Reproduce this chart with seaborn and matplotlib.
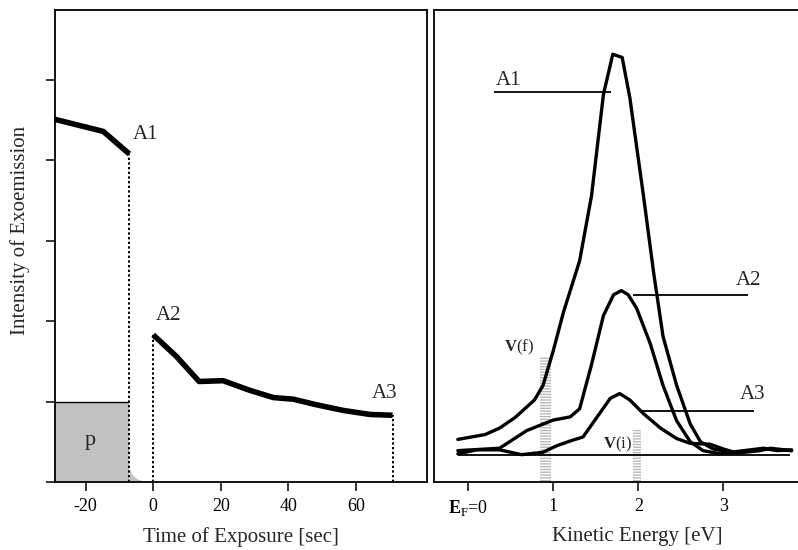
import matplotlib
matplotlib.use("Agg")
import matplotlib.pyplot as plt
import pandas as pd
import seaborn as sns

# ---------------------------------------------------------------------------
# Left panel: intensity of exoemission vs. time of exposure
# ---------------------------------------------------------------------------
pre_t = [-29.1, -14.8, -7.1]
pre_i = [4.51, 4.36, 4.08]
post_t = [0.0, 6.9, 13.6, 20.7, 28.6, 35.6, 41.5, 48.4, 56.3, 64.2, 70.9]
post_i = [1.83, 1.56, 1.25, 1.26, 1.14, 1.05, 1.03, 0.96, 0.89, 0.84, 0.83]
# grey "p" pulse and its decaying tail
p_start, p_end, p_level = -29.1, -7.1, 1.0
tail_t = [-7.1, -6.5, -5.5, -4.5, -3.0, -1.5, 0.0]
tail_i = [0.17, 0.11, 0.06, 0.035, 0.015, 0.005, 0.0]
time_ticks = [-20, 0, 20, 40, 60]
int_ticks = [0, 1, 2, 3, 4, 5]

# ---------------------------------------------------------------------------
# Right panel: kinetic energy spectra for A1, A2, A3
# ---------------------------------------------------------------------------
ke_a1 = [-0.12, 0.20, 0.37, 0.55, 0.78, 0.88, 1.00, 1.12, 1.31, 1.45, 1.59, 1.70, 1.81,
         1.90, 2.06, 2.18, 2.29, 2.45, 2.61, 2.73, 2.88, 3.08, 3.24, 3.47, 3.63, 3.80]
sp_a1 = [0.53, 0.59, 0.67, 0.80, 1.02, 1.20, 1.63, 2.11, 2.75, 3.56, 4.82, 5.32, 5.28,
         4.78, 3.56, 2.60, 1.81, 1.20, 0.72, 0.50, 0.41, 0.37, 0.39, 0.42, 0.39, 0.40]
ke_a2 = [-0.12, 0.37, 0.69, 1.00, 1.20, 1.31, 1.45, 1.59, 1.71, 1.80, 1.88, 1.98, 2.14,
         2.29, 2.45, 2.61, 2.76, 2.96, 3.24, 3.47, 3.80]
sp_a2 = [0.39, 0.42, 0.64, 0.77, 0.81, 0.91, 1.46, 2.07, 2.33, 2.38, 2.33, 2.16, 1.72,
         1.20, 0.76, 0.50, 0.39, 0.35, 0.38, 0.41, 0.39]
ke_a3 = [-0.12, 0.10, 0.37, 0.63, 0.88, 1.04, 1.20, 1.35, 1.51, 1.67, 1.78, 1.90, 2.06,
         2.26, 2.45, 2.61, 2.84, 3.00, 3.16, 3.43, 3.55, 3.80]
sp_a3 = [0.35, 0.40, 0.40, 0.34, 0.37, 0.45, 0.51, 0.56, 0.80, 1.04, 1.10, 1.02, 0.85,
         0.67, 0.54, 0.48, 0.47, 0.41, 0.36, 0.39, 0.42, 0.39]
baseline_level, baseline_from, baseline_to = 0.34, -0.12, 3.78
# leader lines next to the A labels: (x from, x to, level)
lead_from = [0.31, 1.94, 2.04]
lead_to = [1.68, 3.29, 3.36]
lead_level = [4.85, 2.33, 0.88]
lead_names = ["A1", "A2", "A3"]
lead_text_x = [0.33, 3.15, 3.19]
lead_text_y = [4.99, 2.50, 1.09]
# V(f) and V(i) hatched markers
vbar_x = [0.91, 1.985]
vbar_top = [1.56, 0.65]
vbar_w = [0.12, 0.09]
vbar_names = [r"$\mathbf{V}$(f)", r"$\mathbf{V}$(i)"]
vbar_text_x = [0.60, 1.76]
vbar_text_y = [1.67, 0.47]
energy_ticks = [0, 1, 2, 3]
energy_labels = [r"$\mathbf{E}_{\mathrm{F}}$=0", "1", "2", "3"]

sns.set_theme(style="ticks")
plt.rcParams["font.family"] = ["Liberation Serif", "DejaVu Serif"]
plt.rcParams["mathtext.fontset"] = "custom"
plt.rcParams["mathtext.rm"] = "Liberation Serif"
plt.rcParams["mathtext.bf"] = "Liberation Serif:bold"
plt.rcParams["hatch.linewidth"] = 1.0

W, H = 798, 550
fig = plt.figure(figsize=(W / 100, H / 100), dpi=100)
top_px, bot_px = 10, 482
ax_l = fig.add_axes([55 / W, (H - bot_px) / H, (427 - 55) / W, (bot_px - top_px) / H])
ax_r = fig.add_axes([434 / W, (H - bot_px) / H, (841 - 434) / W, (bot_px - top_px) / H])

ymax = 5.87

# ---- left panel ----
ax_l.fill_between([p_start, p_end], 0, p_level, color="#c2c2c2", lw=0)
ax_l.fill_between(tail_t, 0, tail_i, color="#c2c2c2", lw=0)
ax_l.hlines(p_level, p_start, p_end, color="black", lw=1.0)
ax_l.text(-18.8, 0.52, "p", fontsize=16, ha="center", va="center")

sns.lineplot(x=pre_t, y=pre_i, sort=False, color="black", lw=4.0,
             solid_capstyle="butt", ax=ax_l)
sns.lineplot(x=post_t, y=post_i, sort=False, color="black", lw=4.0,
             solid_capstyle="butt", ax=ax_l)

for xv, yv in [(pre_t[-1], pre_i[-1]), (post_t[0], post_i[0]), (post_t[-1], post_i[-1])]:
    ax_l.vlines(xv, 0, yv, colors="black", linestyles=(0, (1.2, 1.2)), lw=1.4)

ax_l.text(-6.1, 4.32, "A1", fontsize=15, ha="left", va="center")
ax_l.text(0.8, 2.07, "A2", fontsize=15, ha="left", va="center")
ax_l.text(64.7, 1.10, "A3", fontsize=15, ha="left", va="center")

ax_l.set_xlim(-29.1, 81.1)
ax_l.set_ylim(0, ymax)
ax_l.set_xticks(time_ticks)
ax_l.set_xticklabels([str(t) for t in time_ticks])
ax_l.set_yticks(int_ticks)
ax_l.set_yticklabels([])
ax_l.set_xlabel("Time of Exposure [sec]", fontsize=15)
ax_l.set_ylabel("Intensity of Exoemission", fontsize=15)
ax_l.xaxis.set_label_coords(0.5, -0.095)
ax_l.yaxis.set_label_coords(-0.068, 0.533)

# ---- right panel ----
for xv, top, w in zip(vbar_x, vbar_top, vbar_w):
    ax_r.bar(xv, top, width=w, bottom=0, color="#b8b8b8", edgecolor="white",
             hatch="------", lw=0, zorder=1)
for name, xv, yv in zip(vbar_names, vbar_text_x, vbar_text_y):
    ax_r.text(xv, yv, name, fontsize=12, ha="center", va="center")

ax_r.hlines(baseline_level, baseline_from, baseline_to, color="black", lw=1.3, zorder=2)

spectra = pd.DataFrame({
    "energy": ke_a1 + ke_a2 + ke_a3,
    "intensity": sp_a1 + sp_a2 + sp_a3,
    "state": ["A1"] * len(ke_a1) + ["A2"] * len(ke_a2) + ["A3"] * len(ke_a3),
})
sns.lineplot(data=spectra, x="energy", y="intensity", hue="state", sort=False,
             estimator=None, palette=["black", "black", "black"], lw=2.4,
             legend=False, ax=ax_r, zorder=3)

for x0, x1, lv in zip(lead_from, lead_to, lead_level):
    ax_r.hlines(lv, x0, x1, color="black", lw=1.3, zorder=4)
for name, xv, yv in zip(lead_names, lead_text_x, lead_text_y):
    ax_r.text(xv, yv, name, fontsize=15, ha="left", va="center")

ax_r.set_xlim(-0.40, 4.38)
ax_r.set_ylim(0, ymax)
ax_r.set_xticks(energy_ticks)
ax_r.set_xticklabels(energy_labels)
ax_r.set_yticks([])
ax_r.set_xlabel("Kinetic Energy [eV]", fontsize=15)
ax_r.set_ylabel("")
ax_r.xaxis.set_label_coords(0.5, -0.095)
ax_r.spines["right"].set_visible(False)

for ax in (ax_l, ax_r):
    for sp in ax.spines.values():
        sp.set_linewidth(1.3)
        sp.set_color("black")
    ax.tick_params(axis="both", direction="out", length=6.5, width=1.1,
                   labelsize=13, pad=5, colors="black")
    ax.set_facecolor("white")

fig.savefig("out.png", dpi=100, facecolor="white")
